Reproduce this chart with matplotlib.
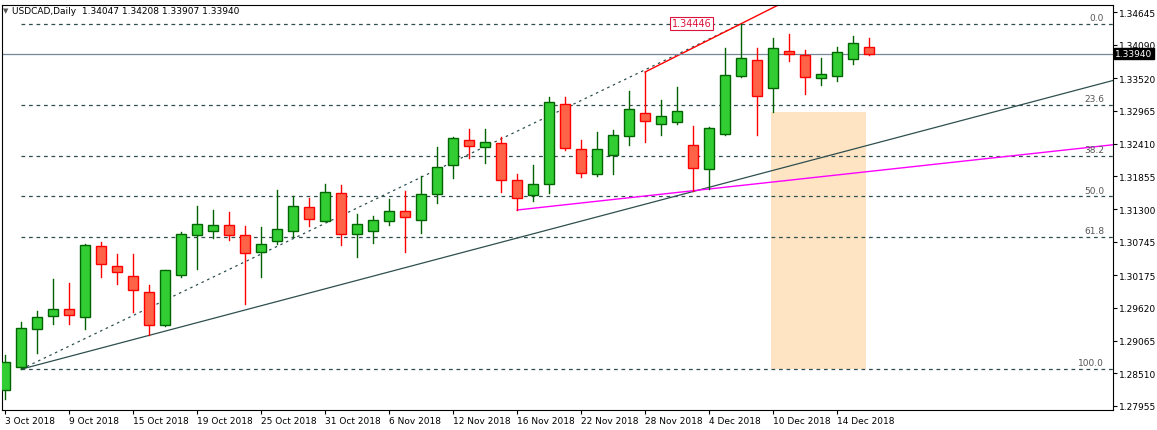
import matplotlib
matplotlib.use("Agg")
import matplotlib.pyplot as plt
import pandas as pd
from matplotlib.patches import Rectangle

dates = pd.bdate_range("2018-10-03", periods=55)
opens = [1.28227,1.28617,1.29263,1.29483,1.29602,1.29466,1.30672,1.30332,1.30163,1.29891,
         1.29331,1.30180,1.30859,1.30927,1.31029,1.30859,1.30570,1.30757,1.30927,1.31334,
         1.31096,1.31572,1.30876,1.30927,1.31096,1.31266,1.31113,1.31555,1.32047,1.32472,
         1.32353,1.32421,1.31793,1.31538,1.31725,1.33083,1.32319,1.31894,1.32217,1.32540,
         1.32930,1.32743,1.32777,1.32387,1.31979,1.32574,1.33559,1.33830,1.33355,1.33983,
         1.33915,1.33525,1.33559,1.33847,1.34047]
highs = [1.28821,1.29381,1.29568,1.30112,1.30044,1.30706,1.30740,1.30536,1.30536,1.30010,
         1.30270,1.30910,1.31351,1.31283,1.31249,1.31012,1.30995,1.31623,1.31521,1.31487,
         1.31725,1.31708,1.31215,1.31181,1.31470,1.31606,1.31861,1.32353,1.32523,1.32659,
         1.32659,1.32523,1.31894,1.32047,1.33202,1.33202,1.32472,1.32608,1.32642,1.33304,
         1.33626,1.33151,1.33372,1.32710,1.32693,1.34034,1.34446,1.34034,1.34204,1.34272,
         1.34000,1.33864,1.34051,1.34238,1.34208]
lows = [1.28074,1.28583,1.28855,1.29347,1.29347,1.29263,1.30146,1.30027,1.29551,1.29161,
        1.29320,1.30146,1.30281,1.30808,1.30774,1.29687,1.30146,1.30706,1.30825,1.31012,
        1.31090,1.30689,1.30485,1.30723,1.31029,1.30570,1.30893,1.31402,1.31827,1.32166,
        1.32081,1.31589,1.31283,1.31436,1.31572,1.32302,1.31844,1.31861,1.31894,1.32387,
        1.32438,1.32557,1.32743,1.31606,1.31640,1.32557,1.33542,1.32557,1.32947,1.33813,
        1.33253,1.33406,1.33474,1.33762,1.33907]
closes = [1.28702,1.29280,1.29466,1.29602,1.29500,1.30689,1.30366,1.30230,1.29925,1.29331,
          1.30264,1.30876,1.31045,1.31029,1.30859,1.30553,1.30706,1.30961,1.31351,1.31130,
          1.31589,1.30876,1.31045,1.31113,1.31266,1.31164,1.31555,1.32013,1.32506,1.32370,
          1.32438,1.31793,1.31487,1.31725,1.33117,1.32336,1.31911,1.32319,1.32557,1.32998,
          1.32794,1.32879,1.32964,1.31996,1.32676,1.33576,1.33864,1.33219,1.34034,1.33932,
          1.33542,1.33592,1.33966,1.34119,1.33940]

fib_low, fib_high = 1.28580, 1.34446
fib_ratios = [0.0, 23.6, 38.2, 50.0, 61.8, 100.0]
yticks = [1.34645,1.34090,1.33520,1.32965,1.32410,1.31855,1.31300,1.30745,1.30175,1.29620,1.29065,1.28510,1.27955]
label_idx = [0,4,8,12,16,20,24,28,32,36,40,44,48,52]
current = 1.33940

W, H = 1157, 431
fig = plt.figure(figsize=(W/100, H/100), dpi=100)
ax = fig.add_axes([2/W, 1-411/H, (1113-2)/W, 405/H])
xmax = 69.25
ax.set_xlim(-0.2, xmax)
ax.set_ylim(1.27887, 1.34764)

dark = "#2F4F4F"
for r in fib_ratios:
    lvl = fib_high - (fib_high - fib_low) * r / 100
    ax.plot([1, xmax], [lvl, lvl], ls=(0, (3, 3)), color=dark, lw=0.9, zorder=1)
    ax.text(68.7, lvl + 0.0003, f"{r:.1f}", ha="right", va="bottom", fontsize=6.5, color="#555555")
ax.plot([1, 46], [fib_low, fib_high], ls=(0, (2, 3)), color=dark, lw=0.9, zorder=1)

ax.add_patch(Rectangle((47.9, fib_low), 5.9, 1.32947 - fib_low, color="#FFE4C4", zorder=0.5, lw=0))

def ray(x0, y0, x1, y1, **kw):
    s = (y1 - y0) / (x1 - x0)
    ax.plot([x0, xmax], [y0, y0 + s * (xmax - x0)], **kw)

ray(1, fib_low, 54, 1.32387, color=dark, lw=0.9, zorder=1)
ray(32, 1.31283, 55.4, 1.31979, color="#FF00FF", lw=1.0, zorder=1)
ray(40, 1.33626, 46, 1.34446, color="red", lw=1.0, zorder=1)
ax.axhline(current, color="#778899", lw=0.9, zorder=1)

for i, (o, h, l, c) in enumerate(zip(opens, highs, lows, closes)):
    up = c >= o
    ec = "#006400" if up else "#FF0000"
    fc = "#32CD32" if up else "#FF6347"
    ax.plot([i, i], [l, h], color=ec, lw=1.0, zorder=2)
    ax.add_patch(Rectangle((i - 0.31, min(o, c)), 0.62, max(abs(c - o), 0.00004),
                           facecolor=fc, edgecolor=ec, lw=1.0, zorder=3))

ax.text(42.9, fib_high + 0.0001, f"{fib_high:.5f}", color="#DC143C", fontsize=7, ha="center", va="center",
        bbox=dict(boxstyle="square,pad=0.15", fc="white", ec="#DC143C", lw=0.8), zorder=4)

ax.yaxis.tick_right()
ax.set_yticks(yticks)
ax.set_yticklabels([f"{v:.5f}" for v in yticks], fontsize=6.5)
ax.tick_params(axis="y", length=3, pad=1.5)
ax.set_xticks(label_idx)
ax.set_xticklabels([f"{dates[i].day} {dates[i].strftime('%b %Y')}" for i in label_idx], fontsize=6.5, ha="left")
ax.tick_params(axis="x", length=3, pad=1)
ax.text(1.002, current, f"{current:.5f}", transform=ax.get_yaxis_transform(), fontsize=6.5, color="white",
        va="center", ha="left", bbox=dict(boxstyle="square,pad=0.12", fc="black", ec="black"))
for s in ax.spines.values():
    s.set_linewidth(0.8)
fig.text(12/W, 1-11/H, "USDCAD,Daily  1.34047 1.34208 1.33907 1.33940", fontsize=6.5, va="center", ha="left")
fig.text(3/W, 1-11/H, "▼", fontsize=5, color="#555555", va="center")
fig.savefig("out.png", dpi=100)
